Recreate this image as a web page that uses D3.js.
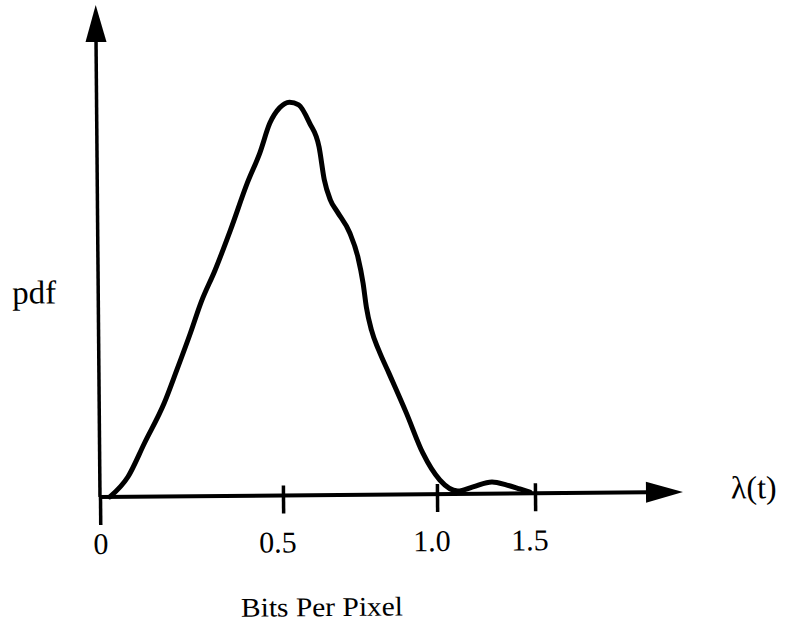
<!DOCTYPE html>
<html>
<head>
<meta charset="utf-8">
<script src="https://cdn.jsdelivr.net/npm/d3@7"></script>
<style>
  html, body { margin: 0; padding: 0; background: #fff; }
  svg { display: block; }
  text { font-family: "Liberation Serif", "Times New Roman", serif; fill: #000; }
</style>
</head>
<body>
<svg id="chart" width="788" height="630"></svg>
<script>
// hand-drawn pdf of bits per pixel
const bpp = [0.027, 0.077, 0.123, 0.178, 0.213, 0.251, 0.281, 0.320, 0.363, 0.410,
             0.445, 0.473, 0.500, 0.532, 0.562, 0.597, 0.627, 0.643, 0.662, 0.685,
             0.724, 0.750, 0.766, 0.776, 0.792, 0.815, 0.847, 0.903, 0.955, 1.015,
             1.107, 1.184, 1.281, 1.357, 1.423, 1.474];
const pdf = [0.000, 0.050, 0.134, 0.234, 0.316, 0.408, 0.485, 0.565, 0.665, 0.782,
             0.857, 0.931, 0.969, 0.983, 0.976, 0.930, 0.870, 0.788, 0.738, 0.707,
             0.655, 0.594, 0.529, 0.469, 0.411, 0.361, 0.304, 0.203, 0.103, 0.035,
             0.007, 0.017, 0.029, 0.021, 0.011, 0.003];
const tickValues = [0, 0.5, 1.0, 1.5];
const tickLabels = ["0", "0.5", "1.0", "1.5"];

const ox = 100, oy = 497;   // origin of the drawing
const svg = d3.select("#chart");
// the scanned figure sits a little crooked
const g = svg.append("g").attr("transform", `rotate(-0.5, ${ox}, ${oy})`);

// the sketch's tick spacing is uneven, so the x scale is piecewise
const x = d3.scaleLinear().domain(tickValues).range([ox, 283, 437, 535]);
const y = d3.scaleLinear().domain([0, 1]).range([oy, 97]);

// x axis: ticks and labels
const xAxis = g.append("g")
    .attr("transform", `translate(0,${oy})`)
    .call(d3.axisBottom(x).tickValues(tickValues).tickFormat((d, i) => tickLabels[i]).tickSize(0));
xAxis.select(".domain").remove();
xAxis.selectAll(".tick line")
    .attr("y1", d => d === 0 ? 0 : -10)
    .attr("y2", d => d === 0 ? 28 : 18)
    .attr("stroke", "#000")
    .attr("stroke-width", 3.5);
xAxis.selectAll(".tick text")
    .attr("y", 57)
    .attr("dy", 0)
    .attr("dx", d => d === 0 ? 0 : -6)
    .style("font-size", "30px")
    .style("font-family", "'Liberation Serif', 'Times New Roman', serif")
    .attr("fill", "#000");

// axis lines with filled arrowheads
const xEnd = 683, yEnd = 5, headLen = 37, headHalf = 10.5;
g.append("line")
    .attr("x1", ox).attr("y1", oy).attr("x2", xEnd - headLen + 2).attr("y2", oy)
    .attr("stroke", "#000").attr("stroke-width", 4);
g.append("path")
    .attr("d", `M${xEnd},${oy} L${xEnd - headLen},${oy - headHalf} L${xEnd - headLen},${oy + headHalf} Z`)
    .attr("fill", "#000");
g.append("line")
    .attr("x1", ox).attr("y1", oy).attr("x2", ox).attr("y2", yEnd + headLen - 2)
    .attr("stroke", "#000").attr("stroke-width", 3.5);
g.append("path")
    .attr("d", `M${ox},${yEnd} L${ox - headHalf},${yEnd + headLen} L${ox + headHalf},${yEnd + headLen} Z`)
    .attr("fill", "#000");

// the density curve
const line = d3.line()
    .x((d, i) => x(bpp[i]))
    .y(d => y(d))
    .curve(d3.curveMonotoneX);
g.append("path")
    .datum(pdf)
    .attr("d", line)
    .attr("fill", "none")
    .attr("stroke", "#000")
    .attr("stroke-width", 5)
    .attr("stroke-linejoin", "round")
    .attr("stroke-linecap", "round");

// labels
g.append("text")
    .attr("x", 14).attr("y", 303)
    .style("font-size", "33px")
    .text("pdf");
g.append("text")
    .attr("x", 731).attr("y", 504)
    .style("font-size", "32px")
    .text("λ(t)");
g.append("text")
    .attr("x", 321).attr("y", 618)
    .attr("text-anchor", "middle")
    .attr("textLength", 162)
    .attr("lengthAdjust", "spacingAndGlyphs")
    .style("font-size", "27px")
    .text("Bits Per Pixel");
</script>
</body>
</html>
